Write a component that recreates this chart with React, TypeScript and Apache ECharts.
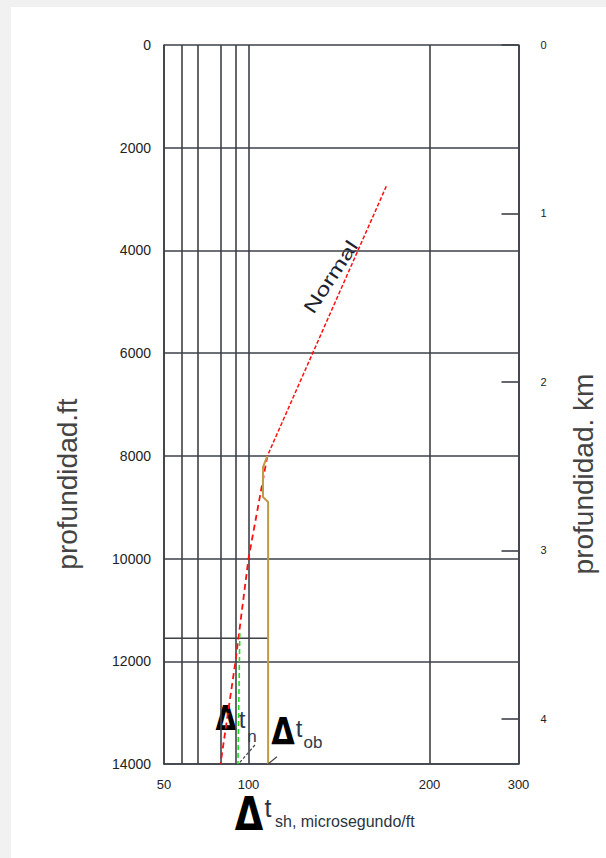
import React, { useEffect, useRef } from "react";
import * as echarts from "echarts";

// ---- scale definition of the (hand drawn) semi-log paper: value -> offset along x axis
const X_KNOT_VALUES = [50, 60, 70, 80, 90, 100, 200, 300];
const X_KNOT_POS = [0, 18, 34, 56.5, 71.5, 84.5, 265.5, 354.5];
const X_GRID_VALUES = [50, 60, 70, 80, 90, 100, 200, 300];
const X_LABEL_VALUES = [50, 100, 200, 300];

// ---- data (depth in ft, transit time in microseconds/ft)
const normalUpperDt = [169.5, 107.5];
const normalUpperDepth = [2750, 8000];
const normalLowerDt = [107.5, 100, 90, 80];
const normalLowerDepth = [8000, 10000, 12000, 14000];
const observedDt = [107.5, 105.7, 105.7, 107.8, 107.8];
const observedDepth = [8000, 8220, 8800, 8900, 14000];
const shaleNormalDt = [93.2, 91.8];
const shaleNormalDepth = [11450, 14000];
const markerDt = [50, 107.8];
const markerDepth = [11550, 11550];
const leaderNDt = [102.5, 92.1];
const leaderNDepth = [13630, 14000];
const leaderObDt = [111.5, 107.8];
const leaderObDepth = [13860, 14000];

const FT_PER_KM = 3280.84;
const MAX_DEPTH = 14000;

function xf(v: number): number {
  for (let i = 0; i < X_KNOT_VALUES.length - 1; i++) {
    const a = X_KNOT_VALUES[i], b = X_KNOT_VALUES[i + 1];
    if (v <= b || i === X_KNOT_VALUES.length - 2) {
      const pa = X_KNOT_POS[i], pb = X_KNOT_POS[i + 1];
      return pa + ((pb - pa) * Math.log(v / a)) / Math.log(b / a);
    }
  }
  return 0;
}
function xinv(p: number): number {
  for (let i = 0; i < X_KNOT_POS.length - 1; i++) {
    const pa = X_KNOT_POS[i], pb = X_KNOT_POS[i + 1];
    if (p <= pb + 1e-6 || i === X_KNOT_POS.length - 2) {
      const a = X_KNOT_VALUES[i], b = X_KNOT_VALUES[i + 1];
      return a * Math.pow(b / a, (p - pa) / (pb - pa));
    }
  }
  return 0;
}
function pts(dt: number[], depth: number[]) {
  return dt.map((d, i) => [xf(d), depth[i]]);
}

const GRID = "#3d4148";
const FONT = "Liberation Sans, Arial, sans-serif";

export default function App() {
  const ref = useRef<HTMLDivElement>(null);
  useEffect(() => {
    if (!ref.current) return;
    const chart = echarts.init(ref.current, null, { renderer: "svg" });
    const line = (data: number[][], color: string, width: number, type: any, z = 3) => ({
      type: "line",
      data,
      symbol: "none",
      showSymbol: false,
      silent: true,
      z,
      lineStyle: { color, width, type },
    });
    chart.setOption({
      animation: false,
      backgroundColor: "#ffffff",
      grid: { left: 164, right: 87.5, top: 45, bottom: 94, containLabel: false },
      xAxis: {
        type: "value",
        min: 0,
        max: X_KNOT_POS[X_KNOT_POS.length - 1],
        position: "bottom",
        axisLine: { show: true, onZero: false, lineStyle: { color: GRID, width: 1.6 } },
        axisTick: { show: false, customValues: X_GRID_VALUES.map(xf) },
        axisLabel: {
          customValues: X_LABEL_VALUES.map(xf),
          formatter: (v: number) => String(Math.round(xinv(v))),
          color: "#222",
          fontSize: 13,
          fontFamily: FONT,
          margin: 14,
        },
        splitLine: { show: true, lineStyle: { color: GRID, width: 1.6 } },
      },
      yAxis: [
        {
          type: "value",
          inverse: true,
          min: 0,
          max: MAX_DEPTH,
          interval: 2000,
          axisLine: { show: true, lineStyle: { color: GRID, width: 1.6 } },
          axisTick: { show: false },
          axisLabel: {
            color: "#222", fontSize: 14, fontFamily: FONT, margin: 13,
            formatter: (v: number) => String(v),
          },
          splitLine: { show: true, lineStyle: { color: GRID, width: 1.6 } },
        },
        {
          type: "value",
          inverse: true,
          position: "right",
          min: 0,
          max: MAX_DEPTH / FT_PER_KM,
          interval: 1,
          axisLine: { show: true, lineStyle: { color: GRID, width: 1.6 } },
          axisTick: { show: true, inside: true, length: 17, lineStyle: { color: GRID, width: 1.6 } },
          axisLabel: {
            color: "#222", fontSize: 11, fontFamily: FONT, margin: 22, showMaxLabel: false,
            formatter: (v: number) => String(v),
          },
          splitLine: { show: false },
        },
      ],
      series: [
        line(pts(markerDt, markerDepth), GRID, 1.6, "solid", 2),
        line(pts(normalUpperDt, normalUpperDepth), "#ff1010", 1.5, [4, 2]),
        line(pts(normalLowerDt, normalLowerDepth), "#ff1010", 1.8, [6, 4]),
        line(pts(observedDt, observedDepth), "#bf9b45", 2),
        line(pts(shaleNormalDt, shaleNormalDepth), "#22dd22", 1.6, [5, 3]),
        line(pts(leaderNDt, leaderNDepth), "#444", 1.2, [3, 2]),
        line(pts(leaderObDt, leaderObDepth), "#444", 1.2, "solid"),
      ],
      graphic: [
        { type: "rect", shape: { x: 0, y: 0, width: 606, height: 7 }, style: { fill: "#f1f1f1" }, z: 100 },
        { type: "rect", shape: { x: 0, y: 0, width: 11, height: 858 }, style: { fill: "#f1f1f1" }, z: 100 },
        {
          type: "text", x: 67, y: 484, rotation: Math.PI / 2,
          style: { text: "profundidad.ft", fontSize: 28, fontFamily: FONT, fill: "#444", align: "center", verticalAlign: "middle" },
        },
        {
          type: "text", x: 583, y: 474, rotation: Math.PI / 2,
          style: { text: "profundidad. km", fontSize: 28, fontFamily: FONT, fill: "#444", align: "center", verticalAlign: "middle" },
        },
        {
          type: "text", x: 331, y: 277, rotation: 0.99, scaleX: 1.35,
          style: { text: "Normal", fontSize: 19, fontFamily: FONT, fill: "#1d2230", align: "center", verticalAlign: "middle" },
        },
        // x axis title
        {
          type: "text", x: 249, y: 814, scaleX: 0.8,
          style: { text: "Δ", fontSize: 46, fontWeight: "bold", fontFamily: "DejaVu Sans", fill: "#000", align: "center", verticalAlign: "middle" },
        },
        {
          type: "text", x: 268, y: 808,
          style: { text: "t", fontSize: 25, fontFamily: FONT, fill: "#2c3440", align: "center", verticalAlign: "middle" },
        },
        {
          type: "text", x: 275, y: 821,
          style: { text: "sh, microsegundo/ft", fontSize: 16, fontFamily: FONT, fill: "#2c3440", align: "left", verticalAlign: "middle" },
        },
        // Δt_n
        {
          type: "text", x: 226, y: 718, scaleX: 0.8,
          style: { text: "Δ", fontSize: 34, fontWeight: "bold", fontFamily: "DejaVu Sans", fill: "#000", align: "center", verticalAlign: "middle" },
        },
        {
          type: "text", x: 242, y: 719,
          style: { text: "t", fontSize: 24, fontFamily: FONT, fill: "#2c3a4e", align: "center", verticalAlign: "middle" },
        },
        {
          type: "text", x: 252, y: 736,
          style: { text: "n", fontSize: 17, fontFamily: FONT, fill: "#2c3a4e", align: "center", verticalAlign: "middle" },
        },
        // Δt_ob
        {
          type: "text", x: 283, y: 731, scaleX: 0.8,
          style: { text: "Δ", fontSize: 38, fontWeight: "bold", fontFamily: "DejaVu Sans", fill: "#000", align: "center", verticalAlign: "middle" },
        },
        {
          type: "text", x: 299, y: 728,
          style: { text: "t", fontSize: 24, fontFamily: FONT, fill: "#2c3a4e", align: "center", verticalAlign: "middle" },
        },
        {
          type: "text", x: 313, y: 742,
          style: { text: "ob", fontSize: 17, fontFamily: FONT, fill: "#2c3a4e", align: "center", verticalAlign: "middle" },
        },
      ],
    });
    return () => chart.dispose();
  }, []);
  return <div ref={ref} style={{ position: "fixed", left: 0, top: 0, width: 606, height: 858 }} />;
}
